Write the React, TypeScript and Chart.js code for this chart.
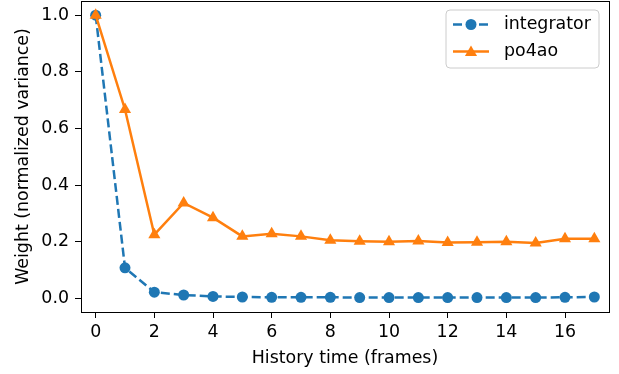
import React, { useEffect, useRef } from "react";
import { Chart, registerables } from "chart.js";

Chart.register(...registerables);

const frames = [0, 1, 2, 3, 4, 5, 6, 7, 8, 9, 10, 11, 12, 13, 14, 15, 16, 17];
const integrator = [1.0, 0.108, 0.022, 0.012, 0.007, 0.005, 0.004, 0.004, 0.004, 0.003, 0.003, 0.003, 0.003, 0.003, 0.003, 0.003, 0.004, 0.005];
const po4ao = [1.0, 0.667, 0.225, 0.337, 0.285, 0.219, 0.228, 0.219, 0.205, 0.202, 0.2, 0.203, 0.197, 0.198, 0.2, 0.196, 0.211, 0.211];
const xTicks = [0, 2, 4, 6, 8, 10, 12, 14, 16];
const yTicks = [0, 0.2, 0.4, 0.6, 0.8, 1.0];
const seriesNames = ["integrator", "po4ao"];
const xTitle = "History time (frames)";
const yTitle = "Weight (normalized variance)";

const BLUE = "#1f77b4";
const ORANGE = "#ff7f0e";
const FONT = "'DejaVu Sans', sans-serif";
const FS = 17.4;

const framePlugin = {
  id: "frame",
  afterDatasetsDraw(chart: any) {
    const { ctx, chartArea: a } = chart;
    ctx.save();
    ctx.strokeStyle = "#000";
    ctx.lineWidth = 1;
    ctx.strokeRect(Math.round(a.left) + 0.5, Math.round(a.top) + 0.5, Math.round(a.right - a.left), Math.round(a.bottom - a.top));
    ctx.restore();
  },
  afterDraw(chart: any) {
    const { ctx } = chart;
    ctx.save();
    const x0 = 446, y0 = 10, w = 153, h = 58, r = 4;
    ctx.beginPath();
    ctx.moveTo(x0 + r, y0);
    ctx.arcTo(x0 + w, y0, x0 + w, y0 + h, r);
    ctx.arcTo(x0 + w, y0 + h, x0, y0 + h, r);
    ctx.arcTo(x0, y0 + h, x0, y0, r);
    ctx.arcTo(x0, y0, x0 + w, y0, r);
    ctx.closePath();
    ctx.fillStyle = "rgba(255,255,255,0.8)";
    ctx.fill();
    ctx.strokeStyle = "#cccccc";
    ctx.lineWidth = 1;
    ctx.stroke();
    const rows = [
      { y: 24.5, color: BLUE, dash: [9, 4], marker: "circle" },
      { y: 51.5, color: ORANGE, dash: [], marker: "triangle" },
    ];
    rows.forEach((row, i) => {
      ctx.beginPath();
      ctx.setLineDash(row.dash);
      ctx.lineDashOffset = 0;
      ctx.strokeStyle = row.color;
      ctx.lineWidth = 2.5;
      ctx.moveTo(453, row.y);
      ctx.lineTo(489, row.y);
      ctx.stroke();
      ctx.setLineDash([]);
      ctx.fillStyle = row.color;
      ctx.beginPath();
      if (row.marker === "circle") {
        ctx.arc(471, row.y, 5.5, 0, Math.PI * 2);
      } else {
        const rad = 7;
        for (let k = 0; k < 3; k++) {
          const ang = -Math.PI / 2 + (k * 2 * Math.PI) / 3;
          const px = 471 + Math.cos(ang) * rad;
          const py = row.y + 1 + Math.sin(ang) * rad;
          if (k === 0) ctx.moveTo(px, py);
          else ctx.lineTo(px, py);
        }
        ctx.closePath();
      }
      ctx.fill();
      ctx.fillStyle = "#000";
      ctx.font = `${FS}px ${FONT}`;
      ctx.textBaseline = "middle";
      ctx.textAlign = "left";
      ctx.fillText(seriesNames[i], 504, row.y);
    });
    ctx.restore();
  },
};

export default function App() {
  const ref = useRef<HTMLCanvasElement>(null);
  useEffect(() => {
    if (!ref.current) return;
    const chart = new Chart(ref.current, {
      type: "line",
      data: {
        datasets: [
          {
            label: seriesNames[0],
            data: frames.map((f, i) => ({ x: f, y: integrator[i] })),
            borderColor: BLUE,
            backgroundColor: BLUE,
            borderWidth: 2.5,
            borderDash: [9, 4],
            pointStyle: "circle",
            pointRadius: 5.5,
            pointBorderWidth: 0,
            order: 2,
            tension: 0,
          },
          {
            label: seriesNames[1],
            data: frames.map((f, i) => ({ x: f, y: po4ao[i] })),
            borderColor: ORANGE,
            backgroundColor: ORANGE,
            borderWidth: 2.5,
            pointStyle: "triangle",
            pointRadius: 7,
            pointBorderWidth: 0,
            order: 1,
            tension: 0,
          },
        ],
      },
      options: {
        animation: false,
        responsive: false,
        devicePixelRatio: 1,
        layout: { autoPadding: false, padding: { top: 1, right: 10, left: 0, bottom: 0 } },
        plugins: { legend: { display: false }, tooltip: { enabled: false } },
        scales: {
          x: {
            type: "linear",
            min: -0.5,
            max: 17.5,
            afterBuildTicks: (s: any) => { s.ticks = xTicks.map((v) => ({ value: v })); },
            afterFit: (s: any) => { s.height = 62; s.paddingLeft = 0; s.paddingRight = 0; },
            grid: { display: true, drawOnChartArea: false, drawTicks: true, tickLength: 6, tickColor: "#000", tickWidth: 1 },
            border: { display: false },
            ticks: { color: "#000", font: { family: FONT, size: FS }, padding: 4, maxRotation: 0 },
            title: { display: true, text: xTitle, color: "#000", font: { family: FONT, size: FS }, padding: { top: 0, bottom: 5 } },
          },
          y: {
            type: "linear",
            min: -0.048,
            max: 1.05,
            afterBuildTicks: (s: any) => { s.ticks = yTicks.map((v) => ({ value: v })); },
            afterFit: (s: any) => { s.width = 81; s.paddingTop = 0; s.paddingBottom = 0; },
            grid: { display: true, drawOnChartArea: false, drawTicks: true, tickLength: 6, tickColor: "#000", tickWidth: 1 },
            border: { display: false },
            ticks: { color: "#000", font: { family: FONT, size: FS }, padding: 6, callback: (v: any) => Number(v).toFixed(1) },
            title: { display: true, text: yTitle, color: "#000", font: { family: FONT, size: FS }, padding: { top: 13, bottom: 0 } },
          },
        },
      },
      plugins: [framePlugin],
    });
    return () => chart.destroy();
  }, []);
  return (
    <div style={{ position: "fixed", left: 0, top: 0, width: 619, height: 374, background: "#fff" }}>
      <canvas ref={ref} width={619} height={374} style={{ width: 619, height: 374 }} />
    </div>
  );
}
